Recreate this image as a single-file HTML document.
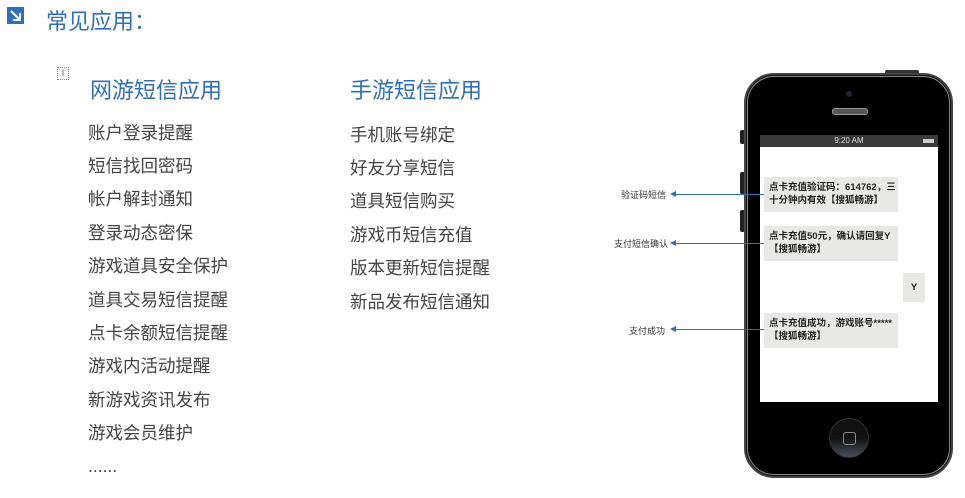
<!DOCTYPE html>
<html><head><meta charset="utf-8"><style>
body{margin:0;width:965px;height:498px;background:#fff;position:relative;overflow:hidden;font-family:"Liberation Sans","Noto Sans CJK SC",sans-serif}
.a{position:absolute;white-space:nowrap}
.li{position:absolute;font-size:17.5px;color:#444;line-height:20px}
.h{color:#2f6fb8;font-size:22px}
.b{position:absolute;background:#e8e8e6;font-size:9.5px;font-weight:bold;color:#222;line-height:13px;padding:4px 5px;box-sizing:border-box;white-space:nowrap}
.lab{position:absolute;font-size:9px;color:#333;white-space:nowrap}
.ln{position:absolute;height:1px;background:#2f6fb8}
.ar{position:absolute;width:0;height:0;border-top:3px solid transparent;border-bottom:3px solid transparent;border-right:6px solid #2f6fb8}
</style></head><body>
<div class="a" style="left:7px;top:7px;width:17px;height:17px;background:#2f6fb8"></div>
<svg class="a" style="left:7px;top:7px" width="17" height="17"><line x1="4" y1="4" x2="13" y2="13" stroke="#fff" stroke-width="2"/><polyline points="6,13 13,13 13,6" fill="none" stroke="#fff" stroke-width="2"/></svg>
<div class="a h" style="left:46px;top:4px;font-size:22px;color:#2f6fb8">常见应用：</div>
<div class="a" style="left:57px;top:67px;width:12px;height:13px;border:1px dotted #888;box-sizing:border-box;font-size:9px;color:#666;text-align:center;line-height:11px">I</div>
<div class="a h" style="left:90px;top:73px">网游短信应用</div>
<div class="a h" style="left:350px;top:73px">手游短信应用</div>
<div class="li" style="left:88px;top:123px">账户登录提醒</div>
<div class="li" style="left:88px;top:156px">短信找回密码</div>
<div class="li" style="left:88px;top:189px">帐户解封通知</div>
<div class="li" style="left:88px;top:223px">登录动态密保</div>
<div class="li" style="left:88px;top:256px">游戏道具安全保护</div>
<div class="li" style="left:88px;top:290px">道具交易短信提醒</div>
<div class="li" style="left:88px;top:323px">点卡余额短信提醒</div>
<div class="li" style="left:88px;top:356px">游戏内活动提醒</div>
<div class="li" style="left:88px;top:390px">新游戏资讯发布</div>
<div class="li" style="left:88px;top:423px">游戏会员维护</div>
<div class="li" style="left:88px;top:456px">......</div>
<div class="li" style="left:350px;top:125px">手机账号绑定</div>
<div class="li" style="left:350px;top:158px">好友分享短信</div>
<div class="li" style="left:350px;top:191px">道具短信购买</div>
<div class="li" style="left:350px;top:225px">游戏币短信充值</div>
<div class="li" style="left:350px;top:258px">版本更新短信提醒</div>
<div class="li" style="left:350px;top:292px">新品发布短信通知</div>
<!-- phone -->
<div class="a" style="left:740px;top:130px;width:5px;height:14px;background:#222;border-radius:2px"></div>
<div class="a" style="left:740px;top:172px;width:5px;height:22px;background:#222;border-radius:2px"></div>
<div class="a" style="left:740px;top:210px;width:5px;height:22px;background:#222;border-radius:2px"></div>
<div class="a" style="left:885px;top:70px;width:34px;height:4px;background:#333;border-radius:2px"></div>
<div class="a" style="left:744px;top:73px;width:209px;height:405px;background:#111;border-radius:30px;border:2px solid #444;box-sizing:border-box"></div>
<div class="a" style="left:747px;top:76px;width:203px;height:399px;background:#000;border-radius:27px;border:1px solid #888;box-sizing:border-box"></div>
<div class="a" style="left:846px;top:91px;width:6px;height:6px;border-radius:50%;background:#223"></div>
<div class="a" style="left:832px;top:108px;width:34px;height:5px;border-radius:3px;background:#555;border:1px solid #999"></div>
<div class="a" style="left:760px;top:135px;width:178px;height:267px;background:#fff"></div>
<div class="a" style="left:760px;top:135px;width:178px;height:12px;background:#3a3a3a;color:#ddd;font-size:8px;text-align:center;line-height:12px">9:20 AM</div>
<div class="a" style="left:923px;top:139px;width:11px;height:4px;background:#ccc"></div>
<div class="a" style="left:829px;top:418px;width:40px;height:40px;border-radius:50%;background:linear-gradient(#111 50%,#4a4f58);border:1px solid #333;box-sizing:border-box"></div>
<div class="a" style="left:843px;top:432px;width:11px;height:11px;border:1px solid #888;border-radius:3px"></div>
<div class="b" style="left:764px;top:177px;width:134px;height:35px">点卡充值验证码：614762，三<br>十分钟内有效【搜狐畅游】</div>
<div class="b" style="left:764px;top:226px;width:134px;height:35px">点卡充值50元，确认请回复Y<br>【搜狐畅游】</div>
<div class="b" style="left:903px;top:273px;width:22px;height:29px;text-align:center;line-height:21px">Y</div>
<div class="b" style="left:764px;top:313px;width:134px;height:35px">点卡充值成功，游戏账号*****<br>【搜狐畅游】</div>
<div class="lab" style="left:621px;top:188px">验证码短信</div>
<div class="lab" style="left:614px;top:237px">支付短信确认</div>
<div class="lab" style="left:629px;top:324px">支付成功</div>
<div class="ln" style="left:672px;top:194px;width:92px"></div><div class="ar" style="left:670px;top:191px"></div>
<div class="ln" style="left:672px;top:243px;width:92px"></div><div class="ar" style="left:670px;top:240px"></div>
<div class="ln" style="left:672px;top:329px;width:92px"></div><div class="ar" style="left:670px;top:326px"></div>
</body></html>
